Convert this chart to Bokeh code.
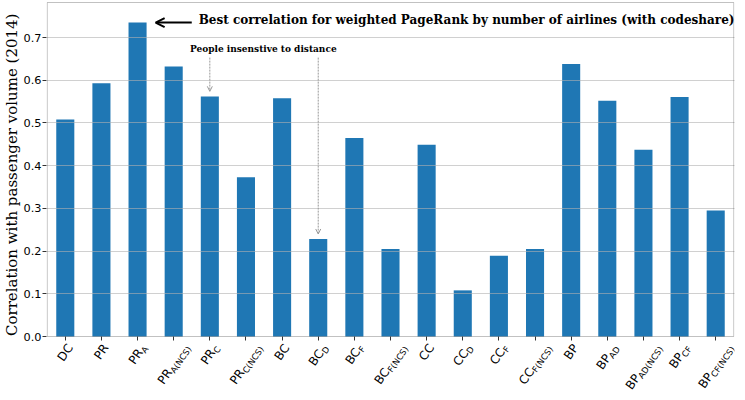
import math
from bokeh.plotting import figure
from bokeh.models import (Range1d, FixedTicker, Label, Arrow, OpenHead,
                          PrintfTickFormatter, BoxAnnotation, Title)
from bokeh.embed import file_html
from bokeh.resources import INLINE

# ---- data ----
main_names = ["DC", "PR", "PR", "PR", "PR", "PR", "BC", "BC", "BC", "BC",
              "CC", "CC", "CC", "CC", "BP", "BP", "BP", "BP", "BP"]
sub_names = ["", "", "A", "A(NCS)", "C", "C(NCS)", "", "D", "F", "F(NCS)",
             "", "D", "F", "F(NCS)", "", "AD", "AD(NCS)", "CF", "CF(NCS)"]
values = [0.508, 0.593, 0.735, 0.632, 0.562, 0.373, 0.558, 0.228, 0.465, 0.205,
          0.449, 0.108, 0.189, 0.205, 0.638, 0.552, 0.437, 0.561, 0.295]
y_ticks = [0.0, 0.1, 0.2, 0.3, 0.4, 0.5, 0.6, 0.7]
y_label = "Correlation with passenger volume (2014)"
note_best = "Best correlation for weighted PageRank by number of airlines (with codeshare)"
note_dist = "People insenstive to distance"
best_idx = 2
dist_idx = [4, 7]

x = list(range(len(values)))
n = len(values)

# ---- layout constants (pixels) ----
W_PX, H_PX = 737, 392
TOP_PX = 2            # top of plotting box
ZERO_PX = 336         # y=0 line
Y_TOP = 0.782         # data value at top of box
px_per_unit = (ZERO_PX - TOP_PX) / Y_TOP
y_start = -(H_PX - ZERO_PX) / px_per_unit

p = figure(width=W_PX, height=H_PX,
           x_range=Range1d(-0.52, n - 0.48),
           y_range=Range1d(y_start, Y_TOP + 1.0 / px_per_unit),
           output_backend="svg", toolbar_location=None,
           min_border_left=0, min_border_right=3,
           min_border_top=TOP_PX - 1, min_border_bottom=0)
p.background_fill_color = "white"
p.border_fill_color = "white"
p.outline_line_color = None

p.vbar(x=x, top=values, width=0.5, bottom=0, fill_color="#1f77b4", line_color=None)

# frame box (spines)
p.add_layout(BoxAnnotation(left=-0.5, right=n - 0.5, bottom=0, top=Y_TOP,
                           fill_color=None, fill_alpha=0,
                           line_color="#333333", line_width=1, level="annotation"))

# x axis placed at y = 0 (ticks only)
p.xaxis.fixed_location = 0
p.xaxis.ticker = FixedTicker(ticks=x)
p.xaxis.major_label_overrides = {i: "" for i in x}
p.xaxis.major_label_text_font_size = "1px"
p.xaxis.major_tick_out = 4
p.xaxis.major_tick_in = 0
p.xaxis.minor_tick_out = 0
p.xaxis.axis_line_color = None
p.xaxis.major_tick_line_color = "#333333"

p.yaxis.bounds = (0, Y_TOP)
p.yaxis.ticker = FixedTicker(ticks=y_ticks)
p.yaxis.formatter = PrintfTickFormatter(format="%.1f")
p.yaxis.major_label_text_font = "DejaVu Sans"
p.yaxis.major_label_text_font_size = "11.3px"
p.yaxis.major_label_text_color = "black"
p.yaxis.major_tick_out = 4
p.yaxis.major_tick_in = 0
p.yaxis.minor_tick_out = 0
p.yaxis.minor_tick_in = 0
p.yaxis.major_label_standoff = 1
p.yaxis.axis_line_color = None
p.yaxis.major_tick_line_color = "#333333"

# axis title on the left, started so that it is centred on the 0..top box
TITLE_FS = 15.0
TITLE_LEN = 333.0
title_offset = H_PX - ((TOP_PX + ZERO_PX) / 2.0 + TITLE_LEN / 2.0)
p.add_layout(Title(text=y_label, align="left", offset=title_offset,
                   standoff=0, text_font="DejaVu Serif", text_font_style="normal",
                   text_font_size=f"{TITLE_FS}px", text_color="black"), "left")

p.xgrid.grid_line_color = None
p.ygrid.ticker = FixedTicker(ticks=y_ticks[1:])
p.ygrid.grid_line_color = "#b0b0b0"
p.ygrid.grid_line_alpha = 0.6
p.ygrid.level = "guide"

# ---- rotated tick labels with subscripts ----
em = {"D": .770, "C": .698, "P": .603, "R": .695, "B": .686, "A": .684,
      "F": .575, "N": .748, "S": .635, "(": .390, ")": .390}
f_main = 12
f_sub = 8.5
ANG = 55
theta = math.radians(ANG)
c, s = math.cos(theta), math.sin(theta)
pad = 5.0
h = f_main * 1.16
drop = 0.28 * f_main


def add_piece(i, txt, fs, px, py):
    """px, py: centre of the piece in screen offsets (y down) from (i, 0)."""
    w = sum(em[ch] for ch in txt) * fs
    hh = 1.16 * fs
    ax = px - w / 2 * c + hh / 2 * s
    ay = py + w / 2 * s + hh / 2 * c
    p.add_layout(Label(x=i, y=0, x_offset=ax, y_offset=-ay, text=txt,
                       angle=ANG, angle_units="deg",
                       text_font="DejaVu Sans", text_font_size=f"{fs}px",
                       text_color="black"))


for i, (m, sb) in enumerate(zip(main_names, sub_names)):
    wm = sum(em[ch] for ch in m) * f_main
    ws = sum(em[ch] for ch in sb) * f_sub
    Wt = wm + ws
    Ht = Wt * s + h * c
    cx, cy = 0.0, pad + Ht / 2.0
    t = wm / 2 - Wt / 2
    add_piece(i, m, f_main, cx + t * c, cy - t * s)
    if sb:
        t2 = wm + ws / 2 - Wt / 2
        add_piece(i, sb, f_sub, cx + t2 * c + drop * s, cy - t2 * s + drop * c)

# ---- annotations ----
vb = values[best_idx]
p.add_layout(Arrow(end=OpenHead(size=9, line_width=2, line_color="black"),
                   x_start=best_idx + 1.5, y_start=vb, x_end=best_idx + 0.5, y_end=vb,
                   line_width=2, line_color="black"))
p.add_layout(Label(x=best_idx + 1.69, y=vb + 0.007, text=note_best,
                   text_align="left", text_baseline="middle",
                   text_font="DejaVu Serif", text_font_style="bold",
                   text_font_size="12px", text_color="black"))

p.add_layout(Label(x=dist_idx[0] - 0.55, y=0.674, text=note_dist,
                   text_align="left", text_baseline="middle",
                   text_font="DejaVu Serif", text_font_style="bold",
                   text_font_size="9px", text_color="black"))
for k in dist_idx:
    p.add_layout(Arrow(end=OpenHead(size=5, line_width=1, line_color="#999999"),
                       x_start=k, y_start=0.653, x_end=k, y_end=values[k] + 0.012,
                       line_width=1, line_color="#999999", line_dash="2 1"))

open("out.html", "w").write(file_html(p, INLINE))
